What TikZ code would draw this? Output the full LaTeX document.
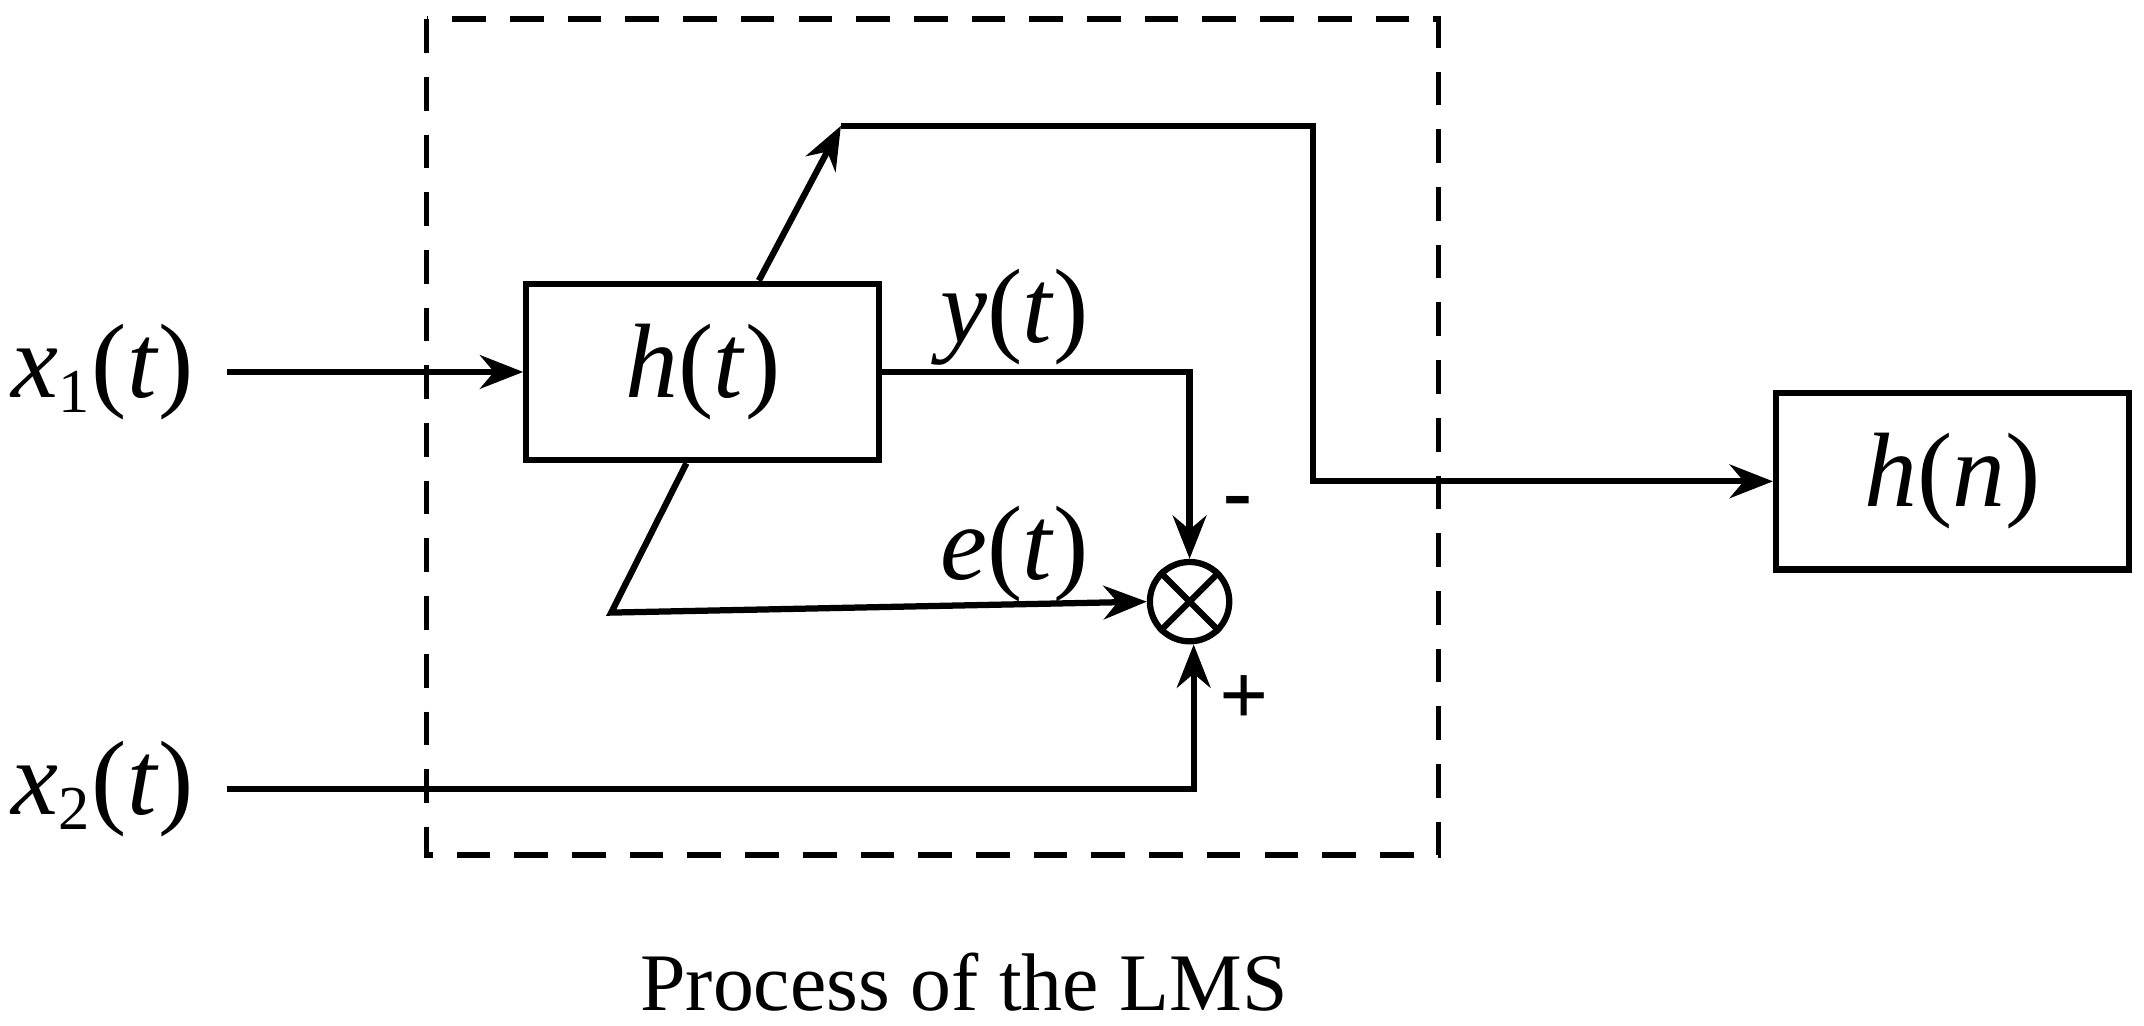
\documentclass[tikz,border=0pt]{standalone}
\usepackage{fontspec}
\setmainfont{Liberation Serif}
\usetikzlibrary{positioning,arrows.meta}
\newcommand{\sig}[2]{\textit{#1}(\textit{#2})}
\newcommand{\sub}[1]{\textsubscript{\fontsize{13}{14}\selectfont#1}}
\begin{document}
\begin{tikzpicture}[x=0.01cm,y=-0.01cm,
    line width=1.3pt,>={Stealth[length=9pt,width=7pt]},
    blk/.style={draw,minimum width=2.58cm,minimum height=1.29cm,inner sep=0pt,font=\fontsize{22}{26}\selectfont},
    lbl/.style={font=\fontsize{22}{26}\selectfont},
    sgn/.style={font=\fontsize{18}{20}\selectfont\bfseries}]
  \useasboundingbox (0,0) rectangle (1568,750);

  % LMS frame
  \draw [dashed,line width=1.2pt,dash pattern=on 7pt off 5pt] (312,14) rectangle (1052,625);

  \node[blk] (ht) at (514,272) {\sig{h}{t}};
  \node[blk] (hn) at (1428,352) {\sig{h}{n}};
  \node[draw,circle,minimum size=0.58cm,inner sep=0pt] (mix) at (870,440) {};
  \draw (mix.north west) -- (mix.south east) (mix.north east) -- (mix.south west);

  \node[lbl] (x1) at (75,272) {\textit{x}\sub{1}(\textit{t})};
  \node[lbl] (x2) at (75,577) {\textit{x}\sub{2}(\textit{t})};

  \coordinate (ya) at (870,272);
  \coordinate (ea) at (447,448);
  \coordinate (xa) at (873,577);
  \coordinate (up) at (615,92);
  \coordinate (ur) at (960,92);
  \coordinate (dr) at (960,352);

  \draw [->] (x1.east) ++(10,0) -- (ht.west);
  \draw [->] (ht.east |- ya) -- (ya) -- (mix.north);
  \draw [->] (ht.south) ++(-12,0) -- (ea) -- (mix.west);
  \draw [->] (x2.east) ++(10,0) -- (xa) -- (mix.south -| xa);
  \draw [->] (ht.north) ++(41,0) -- (up);
  \draw [->] (up) -- (ur) -- (dr) -- (hn.west);

  \node[lbl] at (742,232) {\sig{y}{t}};
  \node[lbl] at (742,405) {\sig{e}{t}};
  \node[sgn] at (905,372) {-};
  \node[sgn] at (910,512) {+};

  \node[font=\fontsize{17}{20}\selectfont] at (705,718) {Process of the LMS};
\end{tikzpicture}
\end{document}
